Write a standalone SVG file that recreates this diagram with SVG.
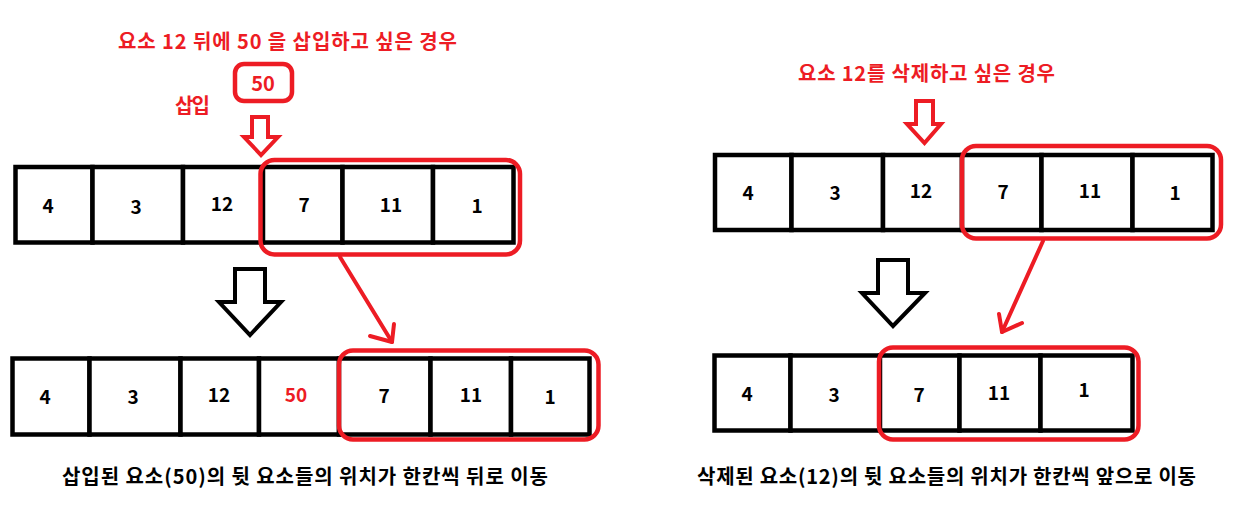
<svg xmlns="http://www.w3.org/2000/svg" width="1243" height="505" viewBox="0 0 1243 505">
<style>
  .cell { fill: #ffffff; stroke: #000000; stroke-width: 4.5; }
  .num { font-family: "Noto Sans CJK KR", "Liberation Sans", sans-serif; font-weight: 700; font-size: 19px; fill: #000000; text-anchor: middle; }
  .numr { fill: #ed1c24; }
  .red { font-family: "Noto Sans CJK KR", "Liberation Sans", sans-serif; font-weight: 700; font-size: 20px; fill: #ed1c24; text-anchor: middle; }
  .cap { font-family: "Noto Sans CJK KR", "Liberation Sans", sans-serif; font-weight: 700; font-size: 20px; fill: #000000; text-anchor: middle; }
  .rbox { fill: none; stroke: #ed1c24; stroke-width: 4.5; }
  .rarrow { fill: none; stroke: #ed1c24; stroke-width: 4; stroke-linejoin: miter; }
  .barrow { fill: #ffffff; stroke: #000000; stroke-width: 4; stroke-linejoin: miter; }
  .rline { fill: none; stroke: #ed1c24; stroke-width: 4; stroke-linecap: round; stroke-linejoin: round; }
</style>

<!-- Left: insertion -->
<text id="title-insert" class="red" x="287.5" y="49" textLength="339" lengthAdjust="spacing">요소 12 뒤에 50 을 삽입하고 싶은 경우</text>

<g id="new-50">
  <rect x="235" y="64" width="57" height="37" rx="9" class="rbox" stroke-width="4"/>
  <text class="red" x="263" y="91" font-size="19">50</text>
</g>
<text id="label-insert" class="red" x="192.5" y="113" textLength="35" lengthAdjust="spacing">삽입</text>

<g id="arr-top-left">
  <g id="lt0"><rect class="cell" x="15.5" y="167" width="77" height="75.5"/><text class="num" x="48" y="213">4</text></g>
  <g id="lt1"><rect class="cell" x="92.5" y="167" width="90.5" height="75.5"/><text class="num" x="136" y="214">3</text></g>
  <g id="lt2"><rect class="cell" x="183" y="167" width="80" height="75.5"/><text class="num" x="222" y="211">12</text></g>
  <g id="lt3"><rect class="cell" x="263" y="167" width="79.5" height="75.5"/><text class="num" x="304" y="212">7</text></g>
  <g id="lt4"><rect class="cell" x="342.5" y="167" width="90.5" height="75.5"/><text class="num" x="391" y="212">11</text></g>
  <g id="lt5"><rect class="cell" x="433" y="167" width="80.5" height="75.5"/><text class="num" x="477" y="213">1</text></g>
</g>
<rect id="sel-top-left" class="rbox" x="260.5" y="160" width="259.5" height="94.5" rx="14"/>

<g id="arr-bottom-left">
  <g id="lb0"><rect class="cell" x="12.5" y="358.5" width="77" height="76"/><text class="num" x="45" y="404">4</text></g>
  <g id="lb1"><rect class="cell" x="89.5" y="358.5" width="91" height="76"/><text class="num" x="133" y="404">3</text></g>
  <g id="lb2"><rect class="cell" x="180.5" y="358.5" width="78.5" height="76"/><text class="num" x="219" y="402">12</text></g>
  <g id="lb3"><rect class="cell" x="259" y="358.5" width="80" height="76"/><text class="num numr" x="296" y="402">50</text></g>
  <g id="lb4"><rect class="cell" x="339" y="358.5" width="91.5" height="76"/><text class="num" x="384" y="403">7</text></g>
  <g id="lb5"><rect class="cell" x="430.5" y="358.5" width="80.5" height="76"/><text class="num" x="471" y="402">11</text></g>
  <g id="lb6"><rect class="cell" x="511" y="358.5" width="78.5" height="76"/><text class="num" x="550" y="404">1</text></g>
</g>
<rect id="sel-bottom-left" class="rbox" x="339" y="350.5" width="259.5" height="89" rx="14"/>

<text id="caption-insert" class="cap" x="305" y="484" textLength="486" lengthAdjust="spacing">삽입된 요소(50)의 뒷 요소들의 위치가 한칸씩 뒤로 이동</text>

<!-- Right: deletion -->
<text id="title-delete" class="red" x="926.5" y="81" textLength="257" lengthAdjust="spacing">요소 12를 삭제하고 싶은 경우</text>

<g id="arr-top-right">
  <g id="rt0"><rect class="cell" x="715" y="155" width="76.5" height="75"/><text class="num" x="748" y="200">4</text></g>
  <g id="rt1"><rect class="cell" x="791.5" y="155" width="91.5" height="75"/><text class="num" x="835" y="200">3</text></g>
  <g id="rt2"><rect class="cell" x="883" y="155" width="79" height="75"/><text class="num" x="921" y="198">12</text></g>
  <g id="rt3"><rect class="cell" x="962" y="155" width="79.5" height="75"/><text class="num" x="1003" y="199">7</text></g>
  <g id="rt4"><rect class="cell" x="1041.5" y="155" width="91" height="75"/><text class="num" x="1090" y="198">11</text></g>
  <g id="rt5"><rect class="cell" x="1132.5" y="155" width="80" height="75"/><text class="num" x="1175" y="200">1</text></g>
</g>
<rect id="sel-top-right" class="rbox" x="962" y="146" width="259" height="92.5" rx="14"/>

<g id="arr-bottom-right">
  <g id="rb0"><rect class="cell" x="714.5" y="355.5" width="76" height="75"/><text class="num" x="747" y="401">4</text></g>
  <g id="rb1"><rect class="cell" x="790.5" y="355.5" width="89.5" height="75"/><text class="num" x="834" y="402">3</text></g>
  <g id="rb2"><rect class="cell" x="880" y="355.5" width="79.5" height="75"/><text class="num" x="919" y="402">7</text></g>
  <g id="rb3"><rect class="cell" x="959.5" y="355.5" width="81" height="75"/><text class="num" x="999" y="400">11</text></g>
  <g id="rb4"><rect class="cell" x="1040.5" y="355.5" width="92" height="75"/><text class="num" x="1084" y="397">1</text></g>
</g>
<rect id="sel-bottom-right" class="rbox" x="879" y="347.5" width="259.5" height="92" rx="14"/>

<text id="caption-delete" class="cap" x="946.5" y="484" textLength="499" lengthAdjust="spacing">삭제된 요소(12)의 뒷 요소들의 위치가 한칸씩 앞으로 이동</text>

<!-- Connectors -->
<g id="connectors">
  <polygon class="rarrow" points="252,117 268,117 268,137 278,137 261,155 244,137 252,137"/>
  <polygon class="barrow" points="235,269 265,269 265,302 281,302 250,335 219,302 235,302"/>
  <polyline class="rline" points="340,257 392,342"/>
  <polyline class="rline" points="370,336 392,342 394,324"/>

  <polygon class="rarrow" points="916,101 933,101 933,124 941,124 924.5,143 907,124 916,124"/>
  <polygon class="barrow" points="878,260 908,260 908,293 925,293 893,326 862,293 878,293"/>
  <polyline class="rline" points="1043,241 1002,332"/>
  <polyline class="rline" points="999,314 1002,332 1022,323"/>
</g>
</svg>
